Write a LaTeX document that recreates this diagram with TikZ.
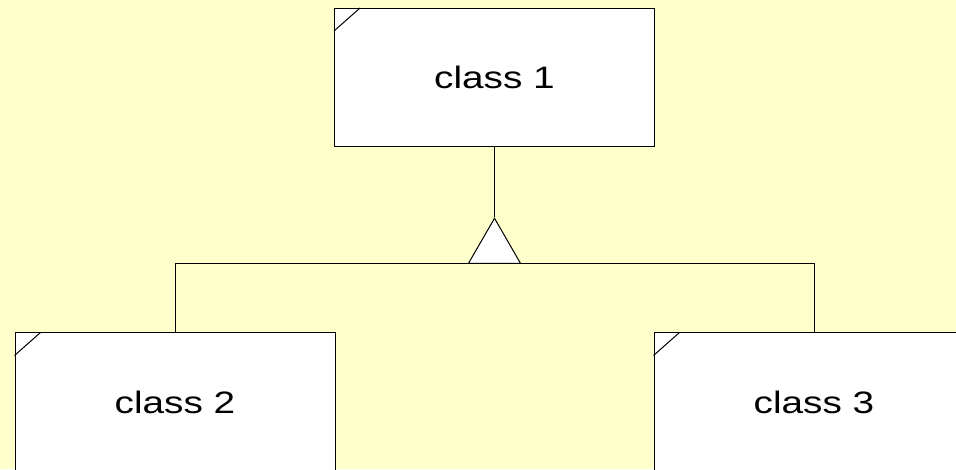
\documentclass[tikz,border=0pt]{standalone}
\usepackage{fontspec}
\setmainfont{Liberation Sans}
\usepackage{xcolor}
\usetikzlibrary{calc}
\usetikzlibrary{shapes.geometric}
\definecolor{paper}{HTML}{FFFFCC}
\tikzset{
  classbox/.style={rectangle, draw, fill=white, line width=1pt, inner sep=0pt,
    minimum width=320pt, minimum height=138pt,
    font=\fontsize{31}{36}\selectfont},
  gentri/.style={regular polygon, regular polygon sides=3, draw, fill=white,
    line width=1pt, inner sep=0pt, minimum size=60pt}
}
\newcommand{\wide}[1]{\scalebox{1.25}[1]{#1}}
\begin{document}
\begin{tikzpicture}[x=1pt, y=1pt, line width=1pt]
          \useasboundingbox (0,0) rectangle (956,469);
          \clip (0,0) rectangle (956,469);
          \fill[paper] (0,0) rectangle (956,469);

          \node[classbox] (c1) at (494.5,391.5) {\wide{class 1}};
          \node[classbox] (c2) at (175,67) {\wide{class 2}};
          \node[classbox] (c3) at (814,67) {\wide{class 3}};
          \node[gentri] (gen) at (494.5,220.7) {};

          \foreach \n in {c1, c2, c3}
            \draw ([yshift=-23pt]\n.north west) -- ([xshift=26pt]\n.north west);

          \draw (c1.south) -- (gen.corner 1);
          \draw (c2.north) |- (gen.side 2) -| (c3.north);
        \end{tikzpicture}
\end{document}
